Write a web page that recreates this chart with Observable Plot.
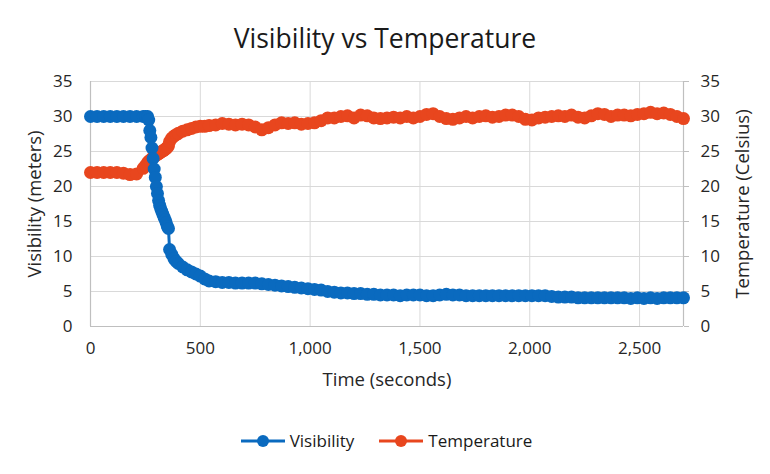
<!DOCTYPE html>
<html>
<head>
<meta charset="utf-8">
<script src="https://cdn.jsdelivr.net/npm/d3@7"></script>
<script src="https://cdn.jsdelivr.net/npm/@observablehq/plot@0.6"></script>
<style>
  html, body { margin: 0; padding: 0; background: #fff; }
  body { width: 770px; height: 474px; overflow: hidden; font-family: "Open Sans", sans-serif; }
  #title { height: 62px; display: flex; align-items: center; justify-content: center; padding-top: 14px; box-sizing: border-box; font-size: 26.5px; color: #1a1a1a; }
  #legend { height: 52px; display: flex; justify-content: center; align-items: flex-start; padding-top: 7px; box-sizing: border-box; font-size: 17px; color: #1a1a1a; gap: 24px; padding-left: 2px; }
  .item { display: flex; align-items: center; gap: 4px; }
</style>
</head>
<body>
<div id="title">Visibility vs Temperature</div>
<div id="chart"></div>
<div id="legend"></div>
<script>
const time = [0,30,60,90,120,150,180,210,240,
  250,260,265,270,275,280,285,290,295,300,305,310,315,320,325,330,335,340,345,350,355,360,370,380,390,400,
  420,440,460,480,500,520,540,
  570,600,630,660,690,720,750,780,810,840,
  870,900,930,960,990,1020,1050,1080,1110,1140,
  1170,1200,1230,1260,1290,1320,1350,1380,1410,1440,
  1470,1500,1530,1560,1590,1620,1650,1680,1710,1740,
  1770,1800,1830,1860,1890,1920,1950,1980,2010,2040,
  2070,2100,2130,2160,2190,2220,2250,2280,2310,2340,
  2370,2400,2430,2460,2490,2520,2550,2580,2610,2640,
  2670,2700];

const visibility = [30,30,30,30,30,30,30,30,30,
  30,30,29.5,28,27,25.5,24,22.5,21.3,20,19,18,17.3,16.8,16.4,16,15.6,15.2,14.8,14.3,14.0,11,10.3,9.7,9.3,9.0,
  8.5,8.1,7.8,7.5,7.2,6.8,6.5,
  6.4,6.3,6.3,6.2,6.2,6.2,6.2,6.1,6.0,5.9,
  5.8,5.7,5.6,5.5,5.4,5.3,5.2,5.0,4.9,4.8,
  4.8,4.7,4.7,4.6,4.6,4.5,4.5,4.5,4.4,4.5,
  4.5,4.5,4.4,4.4,4.5,4.6,4.5,4.5,4.4,4.4,
  4.4,4.4,4.4,4.4,4.4,4.4,4.4,4.4,4.4,4.4,
  4.4,4.3,4.2,4.2,4.2,4.1,4.1,4.1,4.1,4.1,
  4.1,4.1,4.1,4.0,4.1,4.0,4.1,4.0,4.1,4.1,
  4.1,4.1];

const temperature = [22,22,22,22,22,21.9,21.7,21.8,22.6,
  23.0,23.4,23.6,23.7,23.85,24.0,24.15,24.3,24.4,24.5,24.6,24.7,24.8,24.9,25.0,25.1,25.2,25.3,25.45,25.6,25.8,26.4,26.9,27.2,27.4,27.6,
  27.9,28.1,28.3,28.5,28.6,28.6,28.7,
  28.8,29.0,28.9,28.8,28.9,28.8,28.5,28.1,28.4,28.8,
  29.1,29.0,29.1,28.9,29.0,29.1,29.4,29.8,29.8,30.0,
  30.1,29.8,30.2,30.1,29.8,29.7,29.8,29.9,29.8,30.0,
  29.8,30.0,30.3,30.4,30.0,29.7,29.6,29.8,30.0,29.8,
  30.0,30.1,29.9,30.0,30.2,30.2,30.0,29.6,29.5,29.8,
  29.9,30.0,30.1,30.0,30.2,29.9,29.8,30.1,30.4,30.3,
  30.0,30.2,30.2,30.1,30.3,30.4,30.6,30.4,30.5,30.3,
  30.0,29.7];

const xTicks = [0, 500, 1000, 1500, 2000, 2500];
const yTicks = [0, 5, 10, 15, 20, 25, 30, 35];
const seriesNames = ["Visibility", "Temperature"];
const colors = ["#0a6abf", "#e8461e"];

const visData = time.map((t, i) => ({t, v: visibility[i]}));
const tempData = time.map((t, i) => ({t, v: temperature[i]}));

const gridColor = "#d9d9d9";
const axisColor = "#bfbfbf";
const textColor = "#262626";

const chart = Plot.plot({
  width: 770,
  height: 360,
  marginLeft: 90,
  marginRight: 87,
  marginTop: 19,
  marginBottom: 96,
  x: {domain: [0, 2700]},
  y: {domain: [0, 35]},
  style: {fontFamily: "Open Sans, sans-serif", fontSize: "17px", color: textColor, background: "white", overflow: "visible"},
  marks: [
    Plot.gridY(yTicks, {stroke: gridColor, strokeOpacity: 1}),
    Plot.gridX(xTicks.filter(d => d > 0), {stroke: gridColor, strokeOpacity: 1}),
    Plot.ruleX([0, 2700], {stroke: axisColor, strokeWidth: 1.2}),
    Plot.ruleY([0], {stroke: axisColor, strokeWidth: 1.2}),
    Plot.axisY(yTicks, {anchor: "left", tickSize: 0, tickPadding: 18, label: null, fontSize: 17, fill: textColor}),
    Plot.axisY(yTicks, {anchor: "right", tickSize: 5, tickPadding: 12, label: null, fontSize: 17, stroke: axisColor, fill: textColor}),
    Plot.axisX(xTicks, {anchor: "bottom", tickSize: 0, tickPadding: 15, label: null, fontSize: 17, tickFormat: d3.format(","), fill: textColor}),
    Plot.text(["Time (seconds)"], {frameAnchor: "bottom", dy: 59, fontSize: 18.5, fill: textColor, textAnchor: "middle"}),
    Plot.text(["Visibility (meters)"], {frameAnchor: "left", dx: -55, rotate: -90, fontSize: 18.5, fill: textColor, textAnchor: "middle"}),
    Plot.text(["Temperature (Celsius)"], {frameAnchor: "right", dx: 60, rotate: -90, fontSize: 18.5, fill: textColor, textAnchor: "middle"}),
    Plot.line(tempData, {x: "t", y: "v", stroke: colors[1], strokeWidth: 3}),
    Plot.dot(tempData, {x: "t", y: "v", r: 6.5, fill: colors[1], stroke: "none"}),
    Plot.line(visData, {x: "t", y: "v", stroke: colors[0], strokeWidth: 3}),
    Plot.dot(visData, {x: "t", y: "v", r: 6.5, fill: colors[0], stroke: "none"})
  ]
});
document.getElementById("chart").appendChild(chart);

const legend = document.getElementById("legend");
seriesNames.forEach((name, i) => {
  const item = document.createElement("div");
  item.className = "item";
  item.innerHTML = `<svg width="46" height="14"><line x1="1" y1="7" x2="45" y2="7" stroke="${colors[i]}" stroke-width="3"/><circle cx="23" cy="7" r="6" fill="${colors[i]}"/></svg><span>${name}</span>`;
  legend.appendChild(item);
});
</script>
</body>
</html>
